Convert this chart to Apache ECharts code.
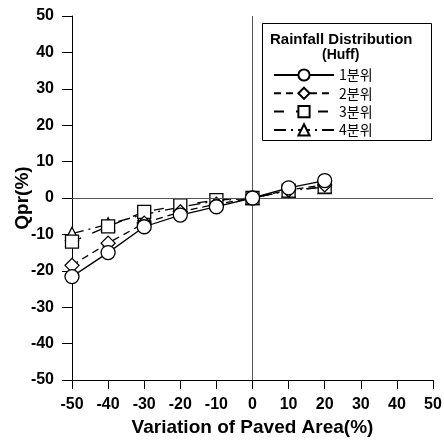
<!DOCTYPE html>
<html>
<head>
<meta charset="utf-8">
<script src="https://cdn.jsdelivr.net/npm/echarts@6/dist/echarts.min.js"></script>
<style>
  html, body { margin: 0; padding: 0; background: #fff; }
  #chart { width: 444px; height: 444px; }
</style>
</head>
<body>
<div id="chart"></div>
<script>
// x positions (variation of paved area, %)
const pavedArea = [-50, -40, -30, -20, -10, 0, 10, 20];
// Qpr (%) for each Huff quartile
const huff1 = [-21.6, -15.0, -7.9, -4.7, -2.4, 0, 2.8, 4.8];
const huff2 = [-18.5, -12.4, -6.9, -3.8, -1.7, 0, 2.2, 3.6];
const huff3 = [-12.0, -7.8, -3.8, -2.0, -0.6, 0, 2.0, 3.1];
const huff4 = [-9.8, -7.2, -4.5, -2.5, -0.8, 0, 2.0, 3.0];
const seriesNames = ['1분위', '2분위', '3분위', '4분위'];

const chart = echarts.init(document.getElementById('chart'));

const pairs = (ys) => pavedArea.map((x, i) => [x, ys[i]]);

// line style / marker per quartile
const styles = [
  { symbol: 'circle', size: 14, type: 'solid' },
  { symbol: 'diamond', size: 14, type: [7, 5] },
  { symbol: 'rect', size: 13, type: [10, 12] },
  { symbol: 'triangle', size: 13, type: [12, 5, 2, 5] }
];

const series = [huff1, huff2, huff3, huff4].map((vals, idx) => ({
  name: seriesNames[idx],
  type: 'line',
  data: pairs(vals),
  symbol: styles[idx].symbol,
  symbolSize: styles[idx].size,
  showAllSymbol: true,
  z: 5 - idx,
  lineStyle: { color: '#000', width: 1.3, type: styles[idx].type },
  itemStyle: { color: '#fff', borderColor: '#000', borderWidth: 1.3 },
  emphasis: { disabled: true }
}));

// crosshair through the origin
series[0].markLine = {
  silent: true,
  symbol: 'none',
  label: { show: false },
  lineStyle: { color: '#555', width: 1, type: 'solid' },
  data: [{ xAxis: 0 }, { yAxis: 0 }]
};

const boldFont = 'Liberation Sans, Arial, sans-serif';

const option = {
  animation: false,
  grid: { left: 72, right: 11, top: 16, bottom: 64, outerBoundsMode: 'none' },
  xAxis: {
    type: 'value',
    min: -50, max: 50, interval: 10,
    name: 'Variation of Paved Area(%)',
    nameLocation: 'middle',
    nameGap: 38,
    nameMoveOverlap: false,
    nameTextStyle: { color: '#000', fontSize: 19, fontWeight: 'bold', fontFamily: boldFont },
    axisLine: { onZero: false, lineStyle: { color: '#000', width: 1 } },
    axisTick: { show: true, length: 9, lineStyle: { color: '#000' } },
    axisLabel: { color: '#000', fontSize: 16, fontWeight: 'bold', fontFamily: boldFont, margin: 17 },
    splitLine: { show: false }
  },
  yAxis: {
    type: 'value',
    min: -50, max: 50, interval: 10,
    name: 'Qpr(%)',
    nameLocation: 'middle',
    nameGap: 40,
    nameMoveOverlap: false,
    nameTextStyle: { color: '#000', fontSize: 19, fontWeight: 'bold', fontFamily: boldFont },
    axisLine: { onZero: false, lineStyle: { color: '#000', width: 1 } },
    axisTick: { show: true, length: 10, lineStyle: { color: '#000' } },
    axisLabel: { color: '#000', fontSize: 16, fontWeight: 'bold', fontFamily: boldFont, margin: 18 },
    splitLine: { show: false }
  },
  legend: {
    orient: 'vertical',
    left: 268,
    top: 63,
    itemWidth: 60,
    itemHeight: 14,
    itemGap: 4.3,
    data: seriesNames,
    textStyle: { color: '#000', fontSize: 14, fontFamily: 'Noto Sans CJK KR' },
    inactiveColor: '#000'
  },
  graphic: [
    {
      type: 'rect',
      left: 262, top: 23,
      shape: { width: 169, height: 117 },
      style: { fill: '#fff', stroke: '#000', lineWidth: 1 },
      z: 0
    },
    {
      type: 'text',
      left: 270, top: 32,
      style: { text: 'Rainfall Distribution', fill: '#000', font: 'bold 15px ' + boldFont },
      z: 10
    },
    {
      type: 'text',
      left: 322, top: 48,
      style: { text: '(Huff)', fill: '#000', font: 'bold 14px ' + boldFont },
      z: 10
    }
  ],
  series: series
};

chart.setOption(option);
</script>
</body>
</html>
